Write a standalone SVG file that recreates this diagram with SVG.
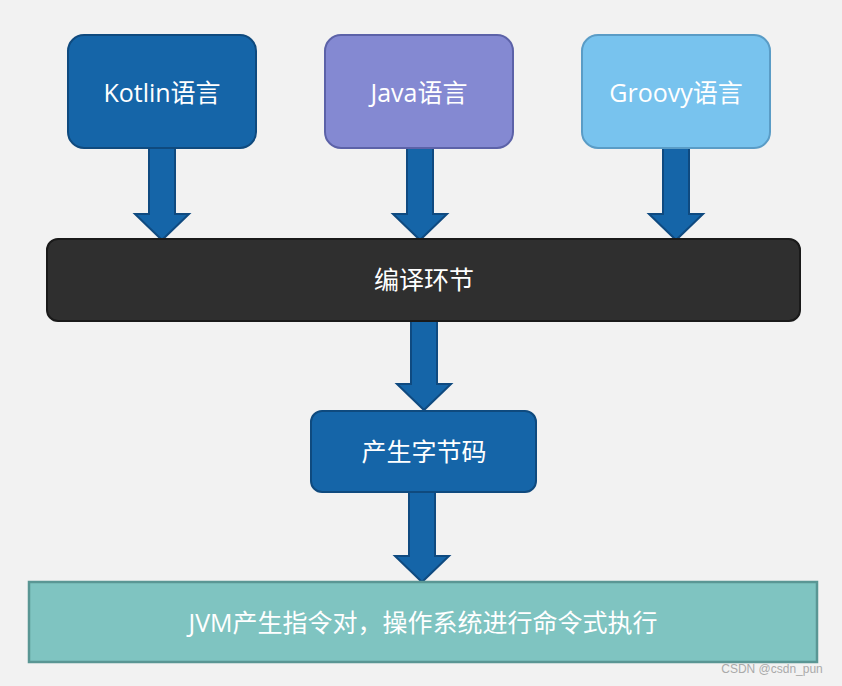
<svg xmlns="http://www.w3.org/2000/svg" width="842" height="686" viewBox="0 0 842 686">
<style>
text{font-family:"Open Sans","Noto Sans CJK SC",sans-serif;fill:#fff;text-anchor:middle;dominant-baseline:central}
.t{font-size:25px}
.arr{fill:#1565a8;stroke:#0f4a80;stroke-width:2}
</style>
<rect width="842" height="686" fill="#f2f2f2"/>
<g id="connectors">
<path class="arr" d="M149,148H175V214H189L162,240L135,214H149Z"/>
<path class="arr" d="M407,148H433V214H447L420,240L393,214H407Z"/>
<path class="arr" d="M663,148H689V214H703L676,240L649,214H663Z"/>
<path class="arr" d="M411,321H437V384H451L424,410L397,384H411Z"/>
<path class="arr" d="M409,492H435V556H449L422,582L395,556H409Z"/>
</g>
<g id="kotlin"><rect x="68" y="35" width="188" height="113" rx="16" fill="#1565a8" stroke="#0f4a7e" stroke-width="2"/><text class="t" x="162" y="92">Kotlin语言</text></g>
<g id="java"><rect x="325" y="35" width="188" height="113" rx="16" fill="#8489d2" stroke="#5c62a8" stroke-width="2"/><text class="t" x="419" y="92">Java语言</text></g>
<g id="groovy"><rect x="582" y="35" width="188" height="113" rx="16" fill="#78c3ee" stroke="#5a9cc6" stroke-width="2"/><text class="t" x="676" y="92">Groovy语言</text></g>
<g id="compile"><rect x="47" y="239" width="753" height="82" rx="11" fill="#2f2f2f" stroke="#1a1a1a" stroke-width="2"/><text class="t" x="424" y="279">编译环节</text></g>
<g id="bytecode"><rect x="311" y="411" width="225" height="81" rx="11" fill="#1565a8" stroke="#0f4a7e" stroke-width="2"/><text class="t" x="424" y="451">产生字节码</text></g>
<g id="jvm"><rect x="29" y="582" width="788" height="80" fill="#7fc4c1" stroke="#5a9694" stroke-width="2.5"/><text class="t" x="423" y="622">JVM产生指令对，操作系统进行命令式执行</text></g>
<text x="772" y="669" style="font-family:'Liberation Sans',sans-serif;font-size:12px;fill:#aaa">CSDN @csdn_pun</text>
</svg>
